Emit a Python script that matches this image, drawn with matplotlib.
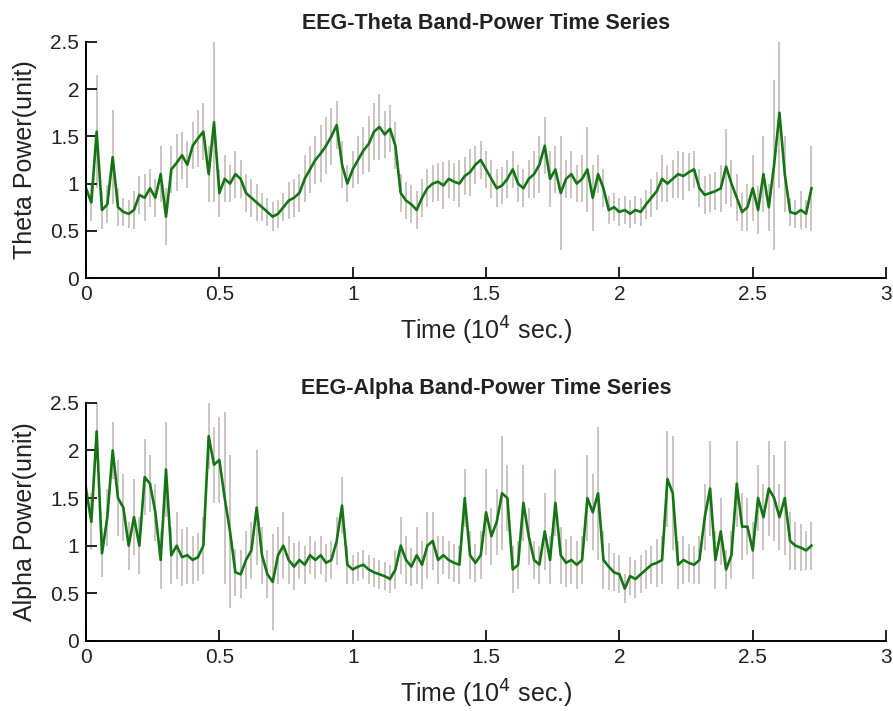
import numpy as np
import matplotlib
matplotlib.use("Agg")
import matplotlib.pyplot as plt

plt.rcParams['font.family'] = ['Liberation Sans', 'DejaVu Sans']

# sample step 0.02 (x 10^4 sec), 0 .. 2.72
step = 0.02

theta = [0.95, 0.80, 1.55, 0.72, 0.78, 1.28, 0.75, 0.70, 0.68, 0.72,
         0.88, 0.85, 0.95, 0.85, 1.10, 0.65, 1.15, 1.22, 1.30, 1.20,
         1.40, 1.48, 1.55, 1.10, 1.65, 0.90, 1.05, 1.00, 1.10, 1.05,
         0.90, 0.85, 0.80, 0.75, 0.70, 0.65, 0.68, 0.75, 0.82, 0.85,
         0.90, 1.05, 1.15, 1.25, 1.32, 1.40, 1.50, 1.62, 1.20, 1.00,
         1.15, 1.25, 1.35, 1.42, 1.55, 1.60, 1.52, 1.58, 1.40, 0.90,
         0.82, 0.78, 0.72, 0.85, 0.95, 1.00, 1.02, 0.98, 1.05, 1.02,
         1.00, 1.08, 1.12, 1.20, 1.25, 1.15, 1.05, 0.95, 0.98, 1.05,
         1.15, 1.00, 0.95, 1.05, 1.10, 1.20, 1.40, 1.05, 1.15, 0.90,
         1.05, 1.10, 1.00, 1.05, 1.15, 0.85, 1.10, 0.95, 0.72, 0.75,
         0.70, 0.72, 0.68, 0.72, 0.70, 0.78, 0.85, 0.92, 1.05, 1.00,
         1.05, 1.10, 1.08, 1.12, 1.15, 0.95, 0.88, 0.90, 0.92, 0.95,
         1.18, 1.00, 0.85, 0.70, 0.75, 0.95, 0.72, 1.10, 0.75, 1.20,
         1.75, 1.10, 0.70, 0.68, 0.72, 0.68, 0.95]

theta_err = [0.25, 0.20, 0.60, 0.20, 0.20, 0.50, 0.20, 0.15, 0.15, 0.20,
             0.20, 0.25, 0.20, 0.20, 0.30, 0.30, 0.25, 0.30, 0.25, 0.25,
             0.25, 0.30, 0.30, 0.30, 0.85, 0.25, 0.25, 0.20, 0.25, 0.20,
             0.20, 0.20, 0.20, 0.15, 0.15, 0.15, 0.15, 0.15, 0.20, 0.20,
             0.20, 0.25, 0.25, 0.25, 0.30, 0.30, 0.30, 0.25, 0.25, 0.20,
             0.20, 0.25, 0.25, 0.30, 0.30, 0.35, 0.25, 0.25, 0.25, 0.20,
             0.20, 0.20, 0.20, 0.20, 0.20, 0.20, 0.20, 0.25, 0.20, 0.20,
             0.25, 0.20, 0.25, 0.20, 0.20, 0.20, 0.20, 0.20, 0.20, 0.20,
             0.20, 0.20, 0.20, 0.20, 0.25, 0.30, 0.30, 0.30, 0.25, 0.60,
             0.20, 0.25, 0.20, 0.25, 0.45, 0.35, 0.20, 0.20, 0.15, 0.15,
             0.15, 0.15, 0.15, 0.15, 0.15, 0.15, 0.20, 0.20, 0.25, 0.20,
             0.20, 0.25, 0.25, 0.20, 0.20, 0.20, 0.20, 0.20, 0.20, 0.25,
             0.40, 0.25, 0.25, 0.20, 0.25, 0.35, 0.25, 0.40, 0.25, 0.90,
             0.80, 0.40, 0.15, 0.15, 0.20, 0.15, 0.45]

alpha = [1.60, 1.25, 2.20, 0.92, 1.30, 2.00, 1.50, 1.40, 1.00, 1.30,
         1.00, 1.72, 1.65, 1.35, 0.85, 1.80, 0.90, 1.00, 0.88, 0.90,
         0.85, 0.88, 1.00, 2.15, 1.85, 1.90, 1.50, 1.15, 0.72, 0.70,
         0.85, 0.95, 1.40, 0.90, 0.70, 0.62, 0.90, 1.00, 0.85, 0.78,
         0.85, 0.80, 0.90, 0.85, 0.90, 0.82, 0.85, 1.05, 1.42, 0.80,
         0.75, 0.78, 0.80, 0.75, 0.72, 0.70, 0.68, 0.65, 0.75, 1.00,
         0.85, 0.78, 0.90, 0.80, 1.00, 1.05, 0.85, 0.90, 0.85, 0.82,
         0.80, 1.50, 0.90, 0.82, 0.90, 1.35, 1.10, 1.25, 1.55, 1.50,
         0.75, 0.80, 1.45, 1.10, 0.85, 0.80, 1.15, 0.85, 1.45, 0.90,
         0.82, 0.85, 0.80, 0.85, 1.50, 1.35, 1.55, 0.85, 0.78, 0.72,
         0.70, 0.55, 0.68, 0.65, 0.70, 0.75, 0.80, 0.82, 0.85, 1.70,
         1.55, 0.80, 0.85, 0.82, 0.80, 0.85, 1.30, 1.60, 0.85, 1.15,
         0.75, 0.90, 1.65, 1.20, 1.20, 0.95, 1.50, 1.30, 1.60, 1.50,
         1.30, 1.50, 1.05, 1.00, 0.98, 0.95, 1.00]

alpha_err = [0.30, 0.30, 0.30, 0.25, 0.30, 0.30, 0.40, 0.35, 0.25, 0.40,
             0.30, 0.40, 0.30, 0.30, 0.30, 0.50, 0.30, 0.35, 0.30, 0.30,
             0.25, 0.25, 0.30, 0.35, 0.40, 0.45, 0.90, 0.80, 0.25, 0.25,
             0.30, 0.30, 0.60, 0.30, 0.25, 0.50, 0.30, 0.35, 0.25, 0.25,
             0.20, 0.20, 0.20, 0.20, 0.20, 0.20, 0.20, 0.25, 0.30, 0.20,
             0.15, 0.15, 0.15, 0.15, 0.15, 0.15, 0.15, 0.15, 0.20, 0.30,
             0.25, 0.20, 0.30, 0.25, 0.35, 0.30, 0.25, 0.20, 0.20, 0.20,
             0.20, 0.30, 0.25, 0.20, 0.25, 0.45, 0.30, 0.35, 0.60, 0.35,
             0.25, 0.25, 0.40, 0.30, 0.20, 0.20, 0.40, 0.25, 0.35, 0.30,
             0.25, 0.25, 0.25, 0.25, 0.45, 0.40, 0.70, 0.30, 0.25, 0.20,
             0.20, 0.15, 0.20, 0.20, 0.20, 0.20, 0.20, 0.25, 0.25, 0.50,
             0.60, 0.25, 0.25, 0.20, 0.20, 0.25, 0.35, 0.50, 0.30, 0.35,
             0.20, 0.25, 0.45, 0.35, 0.30, 0.30, 0.35, 0.35, 0.50, 0.45,
             0.35, 0.60, 0.30, 0.25, 0.25, 0.20, 0.25]

titles = ['EEG-Theta Band-Power Time Series', 'EEG-Alpha Band-Power Time Series']
ylabels = ['Theta Power(unit)', 'Alpha Power(unit)']
xticks = [0, 0.5, 1, 1.5, 2, 2.5, 3]
xticklabels = ['0', '0.5', '1', '1.5', '2', '2.5', '3']
yticks = [0, 0.5, 1, 1.5, 2, 2.5]
yticklabels = ['0', '0.5', '1', '1.5', '2', '2.5']

time = np.arange(len(theta)) * step

fig = plt.figure(figsize=(8.93, 7.11), dpi=100)
ax1 = fig.add_axes([0.0963, 0.609, 0.896, 0.332])
ax2 = fig.add_axes([0.0963, 0.0985, 0.896, 0.335])

panels = [(ax1, theta, theta_err, titles[0], ylabels[0], 9),
          (ax2, alpha, alpha_err, titles[1], ylabels[1], 6)]

for ax, y, err, title, ylab, tpad in panels:
    ax.errorbar(time, y, yerr=err, fmt='none', ecolor='#cbc4c1', elinewidth=1.4, zorder=1)
    ax.plot(time, y, color='#157515', lw=1.9, zorder=2)
    ax.set_xlim(0, 3)
    ax.set_ylim(0, 2.5)
    ax.set_xticks(xticks)
    ax.set_xticklabels(xticklabels)
    ax.set_yticks(yticks)
    ax.set_yticklabels(yticklabels)
    ax.spines['top'].set_visible(False)
    ax.spines['right'].set_visible(False)
    ax.spines['left'].set_linewidth(1.4)
    ax.spines['bottom'].set_linewidth(1.4)
    ax.tick_params(direction='in', length=8, width=1.4, labelsize=15, colors='#222222', pad=5)
    ax.set_title(title, fontsize=15.5, fontweight='bold', color='#222222', pad=tpad)
    ax.set_ylabel(ylab, fontsize=18, color='#222222', labelpad=9)
    ax.set_xlabel('Time (10$^4$ sec.)', fontsize=18, color='#222222', labelpad=8)

fig.savefig('out.png', dpi=100)
